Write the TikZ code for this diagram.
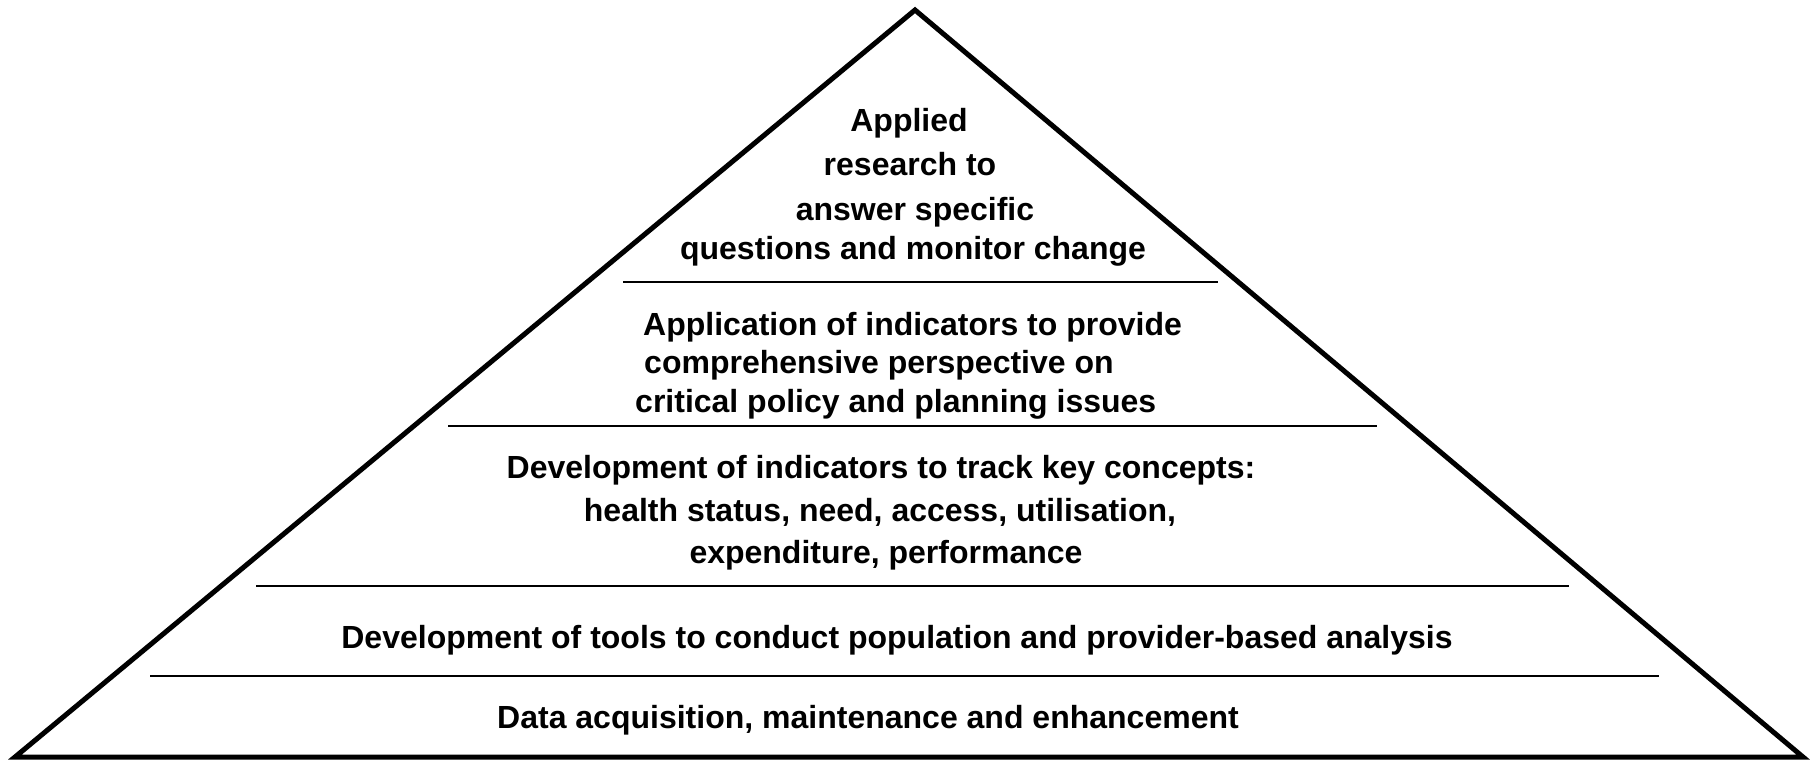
\documentclass[tikz,border=0pt]{standalone}
\usepackage{fontspec}
\setmainfont{Liberation Sans}
\begin{document}
\begin{tikzpicture}[x=1pt,y=-1pt,
  lbl/.style={anchor=base,inner sep=0pt,font=\fontsize{32}{41}\selectfont\bfseries},
  lbll/.style={anchor=base west,inner sep=0pt,font=\fontsize{32}{41}\selectfont\bfseries},
  tier/.style={line width=2pt},
  pyr/.style={line width=5pt,line join=miter}]
\useasboundingbox (0,0) rectangle (1817,761);
\coordinate (apex) at (915,10);
\coordinate (bl) at (15,757);
\coordinate (br) at (1803,757);
\draw[pyr] (bl) -- (apex) -- (br) -- cycle;
% tier separators
\coordinate (l1a) at (623,281.6); \coordinate (l1b) at (1218,281.6);
\coordinate (l2a) at (448,426.4); \coordinate (l2b) at (1377,426.4);
\coordinate (l3a) at (256,586.2); \coordinate (l3b) at (1569,586.2);
\coordinate (l4a) at (150,675.7); \coordinate (l4b) at (1659,675.7);
\draw[tier] (l1a) -- (l1b);
\draw[tier] (l2a) -- (l2b);
\draw[tier] (l3a) -- (l3b);
\draw[tier] (l4a) -- (l4b);
% top tier
\node[lbl] (t1a) at (909,131.7) {Applied};
\node[lbl] (t1b) at (910,175.5) {research to};
\node[lbl] (t1c) at (915,220) {answer specific};
\node[lbl] (t1d) at (913,259) {questions and monitor change};
% second tier
\node[lbll] (t2a) at (643,335.5) {Application of indicators to provide};
\node[lbll] (t2b) at (644,373.7) {comprehensive perspective on};
\node[lbll] (t2c) at (635,412) {critical policy and planning issues};
% third tier
\node[lbl] (t3a) at (881,478) {Development of indicators to track key concepts:};
\node[lbl] (t3b) at (880,521) {health status, need, access, utilisation,};
\node[lbl] (t3c) at (886,563.5) {expenditure, performance};
% fourth tier
\node[lbl] (t4) at (897,648) {Development of tools to conduct population and provider-based analysis};
% base tier
\node[lbl] (t5) at (868,728) {Data acquisition, maintenance and enhancement};
\end{tikzpicture}
\end{document}
